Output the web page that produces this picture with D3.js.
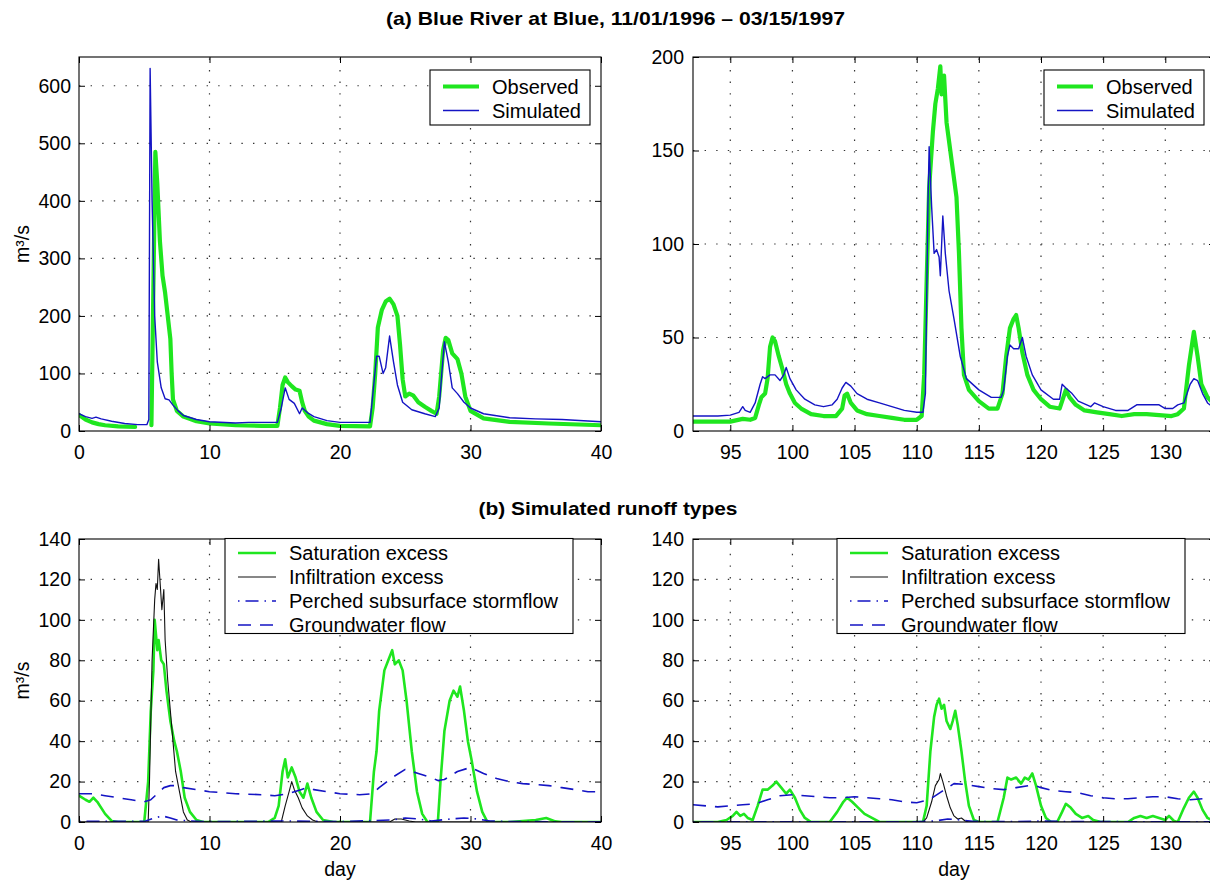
<!DOCTYPE html>
<html><head><meta charset="utf-8">
<script src="https://cdn.jsdelivr.net/npm/d3@7"></script>
<style>
html,body{margin:0;padding:0;background:#fff;}
svg{display:block;font-family:"Liberation Sans",Arial,Helvetica,sans-serif;}
.title{font-family:"Liberation Sans Narrow","Liberation Sans",Arial,sans-serif;font-weight:bold;}
</style></head>
<body><svg id="c" width="1210" height="882"></svg>
<script>
// ---------------- DATA ----------------
const titleA = "(a) Blue River at Blue, 11/01/1996 \u2013 03/15/1997";
const titleB = "(b) Simulated runoff types";
const yLabel = "m\u00b3/s";
const xLabel = "day";

const xTicksLeft = [0, 10, 20, 30, 40];
const xTicksRight = [95, 100, 105, 110, 115, 120, 125, 130];
const yTicksTopLeft = [0, 100, 200, 300, 400, 500, 600];
const yTicksTopRight = [0, 50, 100, 150, 200];
const yTicksBottom = [0, 20, 40, 60, 80, 100, 120, 140];

const legendTop = ["Observed", "Simulated"];
const legendBottom = ["Saturation excess", "Infiltration excess", "Perched subsurface stormflow", "Groundwater flow"];

// (a) left: observed flow [day, m3/s]; null = missing record
const observedLeft = [[0,28],[0.5,20],[1,15],[1.5,12],[2,10],[3,8],[4.3,7],[4.8,null],
 [5.55,10],[5.7,250],[5.85,485],[6.0,430],[6.2,330],[6.4,270],[6.6,240],[6.8,200],[7.0,160],[7.1,100],[7.2,55],
 [7.5,35],[8,25],[9,17],[10,13],[12,10],[14,9],[15.2,9],[15.4,40],[15.6,80],[15.8,93],[16.0,85],[16.3,78],
 [16.6,72],[16.9,70],[17.1,50],[17.3,35],[17.6,25],[18,18],[19,12],[20,9],[22.3,8],[22.5,40],[22.7,100],
 [22.9,180],[23.2,210],[23.5,225],[23.8,230],[24.1,220],[24.4,200],[24.6,150],[24.8,90],[25.0,60],[25.3,65],
 [25.6,62],[26.0,50],[26.5,42],[27.0,35],[27.4,30],[27.6,60],[27.9,140],[28.1,162],[28.3,158],[28.6,135],
 [29.0,125],[29.3,100],[29.6,60],[30,35],[31,22],[33,16],[36,13],[40,10]];
const simulatedLeft = [[0,30],[0.5,25],[1.0,22],[1.3,24],[1.7,21],[2.5,17],[3.5,13],[4.5,11],[5.2,11],[5.35,20],
 [5.45,630],[5.6,400],[5.8,200],[6.0,120],[6.3,75],[6.6,56],[6.9,54],[7.2,45],[7.6,35],[8,27],[9,20],[10,16],
 [12,14],[13,15],[15.2,15],[15.5,40],[15.8,75],[16.1,55],[16.5,48],[16.9,30],[17.1,40],[17.5,32],[18,25],
 [19,18],[20,15],[22.3,15],[22.5,60],[22.8,130],[23.0,130],[23.3,100],[23.5,110],[23.8,165],[24.1,120],
 [24.4,80],[24.8,50],[25.5,37],[26.5,30],[27.3,25],[27.6,40],[27.8,100],[28.0,155],[28.3,120],[28.6,75],
 [29,65],[29.5,50],[30,40],[31,30],[33,23],[35,21],[37,20],[40,16]];

// (a) right
const observedRight = [[92,5],[95,5],[96,6.5],[96.6,6],[97.0,7],[97.3,14],[97.5,18],[97.8,20],[98.0,28],[98.2,45],
 [98.4,50],[98.6,48],[98.9,40],[99.2,33],[99.5,25],[99.8,20],[100.2,15],[100.7,12],[101.5,9],[102.5,8],[103.5,8],
 [104.0,12],[104.2,19],[104.4,20],[104.7,15],[105.2,11],[106,9],[107,8],[108,7],[109,6],[110,6],[110.4,8],
 [110.6,30],[110.8,80],[111.0,130],[111.3,160],[111.5,175],[111.7,183],[111.9,195],[112.0,180],[112.2,190],
 [112.4,165],[112.6,155],[112.8,145],[113.0,135],[113.2,125],[113.4,95],[113.6,55],[113.8,30],[114.2,22],
 [115,16],[115.8,12],[116.5,12],[116.9,20],[117.2,40],[117.5,55],[117.8,60],[118.0,62],[118.2,55],[118.5,42],
 [118.9,30],[119.4,22],[120,17],[120.7,13],[121.5,12],[121.8,18],[122.0,22],[122.3,18],[122.8,14],[123.5,11],
 [124.5,10],[125.5,9],[126.5,8],[127.5,9],[128.5,9],[129.5,8.5],[130.5,8],[131.0,9],[131.5,12],[131.9,35],
 [132.3,53],[132.6,40],[132.9,25],[133.4,18],[134,14]];
const simulatedRight = [[92,8],[94,8],[95,8.5],[95.7,10],[96.0,13],[96.2,11],[96.6,10],[97.0,15],[97.4,25],
 [97.6,29],[97.8,28],[98.2,30],[98.6,30],[99.0,27],[99.3,30],[99.5,34],[99.8,28],[100.3,22],[101,17],[101.8,14],
 [102.5,13],[103.2,14],[103.6,17],[104.0,23],[104.3,26],[104.7,24],[105.2,20],[106,17],[107,15],[108,13],
 [109,11],[110,10],[110.5,10],[110.7,20],[110.9,120],[111.0,152],[111.2,120],[111.4,95],[111.6,97],[111.8,93],
 [111.9,83],[112.1,115],[112.3,95],[112.6,75],[113,60],[113.5,40],[114,28],[115,22],[116,18],[116.8,18],
 [117.0,22],[117.3,40],[117.5,46],[117.8,44],[118.2,44],[118.5,50],[118.8,40],[119.3,30],[120,22],[121,17],
 [121.5,17],[121.7,25],[122,23],[122.5,20],[123,16],[124,13],[124.3,15],[125,13],[126,11],[127,11],[127.7,14],
 [128.5,14],[129.5,14],[130,12],[130.6,12],[131,14],[131.5,15],[132.0,25],[132.3,28],[132.6,27],[133,20],
 [133.4,15],[134,12]];

// (b) left
const saturationLeft = [[0,13],[0.5,11],[0.8,10],[1.1,12],[1.4,10],[2,4],[2.5,0.5],[3,0],[5.0,0],[5.3,20],
 [5.5,55],[5.7,75],[5.8,100],[6.0,85],[6.1,90],[6.3,80],[6.5,78],[6.7,65],[7.0,50],[7.3,40],[7.5,35],[7.8,25],
 [8.1,12],[8.5,5],[9,1],[9.5,0],[14.5,0],[15.0,2],[15.3,8],[15.6,25],[15.8,31],[16.0,22],[16.3,27],[16.6,22],
 [16.9,15],[17.2,12],[17.5,19],[17.8,12],[18.2,5],[18.7,1],[19.5,0],[22.3,0],[22.6,25],[22.8,35],[23.0,55],
 [23.4,75],[23.7,80],[24.0,85],[24.2,78],[24.5,80],[24.8,75],[25.1,60],[25.5,35],[25.9,15],[26.3,4],[26.7,0],
 [27.5,0],[27.7,20],[28.0,45],[28.4,60],[28.7,65],[29.0,62],[29.2,67],[29.5,55],[29.8,40],[30.1,30],[30.5,15],
 [30.9,5],[31.3,0],[33,0],[34,0.5],[35,1],[35.8,2],[36.5,0.3],[37,0],[40,0]];
const infiltrationLeft = [[0,0],[5.3,0],[5.4,20],[5.6,80],[5.8,110],[5.9,118],[6.0,115],[6.1,130],[6.2,120],
 [6.35,105],[6.5,115],[6.6,90],[6.8,70],[7.0,55],[7.2,40],[7.4,25],[7.7,15],[8.0,5],[8.3,1],[8.6,0],[15.5,0],
 [15.8,8],[16.1,15],[16.3,20],[16.5,16],[16.8,12],[17.1,7],[17.5,3],[17.9,1],[18.3,0],[23.8,0],[24.2,1.5],
 [24.7,1.5],[25.3,0.5],[25.8,0],[40,0]];
const perchedLeft = [[0,0.3],[5,0.3],[5.8,2],[6.4,3],[7,2],[7.5,1],[8.5,0.5],[10,0.2],[16,0.5],[20,0.2],[24,1],
 [25,2],[26,1.5],[27,0.5],[28.5,1.5],[29.5,2],[30.5,1.5],[31.5,0.5],[33,0.2],[40,0.1]];
const groundwaterLeft = [[0,14],[1,14],[2,13],[3,12],[4,11],[5,10],[5.5,11],[6,14],[6.5,17],[7,18],[7.5,18],
 [8,17],[9,16],[10,15],[12,14],[14,13.5],[15,13],[16,14],[17,16],[17.5,17],[18,16],[19,15],[20,14],[21.5,13.5],
 [22.5,14],[23,17],[24,22],[25,26],[26,24],[27,22],[27.5,20.5],[28,21],[29,25],[30,27],[31,24],[32,21.5],
 [33,20],[34,19],[35,18.5],[36,18],[37,17],[38,16],[39,15],[40,15]];

// (b) right
const saturationRight = [[92,0],[94,0],[94.7,1],[95.2,3],[95.5,5],[95.8,3],[96.1,4],[96.4,2],[96.8,1],[97.2,8],
 [97.6,16],[98.0,16],[98.4,18],[98.7,20],[99.1,17],[99.5,14],[99.8,16],[100.2,12],[100.6,6],[101,2],[101.5,0],
 [103,0],[103.6,5],[104.1,10],[104.4,12],[104.8,10],[105.3,7],[105.8,4],[106.4,2],[107,0],[110.5,0],[110.8,8],
 [111.1,35],[111.4,52],[111.6,58],[111.8,61],[112.0,56],[112.2,58],[112.4,50],[112.7,46],[112.9,50],[113.1,55],
 [113.3,48],[113.6,35],[113.9,20],[114.2,8],[114.6,1],[115,0],[116.5,0],[117,12],[117.3,22],[117.6,21],
 [118.0,22],[118.4,19],[118.7,22],[119.0,21],[119.3,24],[119.6,18],[120,8],[120.4,2],[120.8,0],[121.3,0],
 [121.7,5],[122,9],[122.4,7],[122.8,4],[123.3,2],[123.8,3],[124.2,1],[124.8,0],[127,0],[127.5,2],[128,3],
 [128.5,2],[129,3],[129.5,2],[130,1],[130.3,3],[130.7,0.5],[131,0],[131.5,7],[131.9,12],[132.3,15],[132.6,12],
 [133,6],[133.4,2],[134,0]];
const infiltrationRight = [[92,0],[110.5,0],[110.8,2],[111.2,10],[111.5,18],[111.8,21],[111.9,24],[112.1,20],
 [112.4,13],[112.7,7],[113.0,3],[113.3,1.5],[113.6,2],[113.9,0.5],[114.2,0],[134,0]];
const perchedRight = [[92,0.1],[110,0.1],[111.5,0.5],[112.5,1.5],[113.5,1],[114.5,0.3],[118,0.2],[120,0.5],
 [122,0.2],[134,0.1]];
const groundwaterRight = [[92,8.5],[94,7.5],[96,8.5],[97,9],[98,11],[99,13],[100,13.5],[101,13],[102,12.5],
 [103,12],[104,12],[105,12.5],[106,12],[107,11.5],[108,11],[109,10],[110,9.5],[111,11],[112,15],[112.5,17],
 [113,19],[114,18.5],[115,17.5],[116,16.5],[117,16],[118,17],[119,18],[119.5,18],[120,17],[121,15.5],[122,15],
 [123,14.5],[124,13],[125,12],[126,11.5],[127,11.5],[128,12],[129,12.5],[130,12.5],[131,11.5],[132,11],
 [133,11.5],[134,12]];

// ---------------- STYLE ----------------
const GREEN = "#1fe61f", BLUE = "#1414c4", BLACK = "#111";
const styles = {
  obs:   {stroke: GREEN, width: 4.2, dash: null},
  sim:   {stroke: BLUE, width: 1.4, dash: null},
  sat:   {stroke: GREEN, width: 2.6, dash: null},
  inf:   {stroke: BLACK, width: 1.1, dash: null},
  per:   {stroke: BLUE, width: 1.6, dash: "1.5,6,13,6"},
  gw:    {stroke: BLUE, width: 1.6, dash: "13,9"}
};

const svg = d3.select("#c");
const FS = 19.5;

function panel(cfg) {
  const x = d3.scaleLinear().domain(cfg.xd).range([cfg.x0, cfg.x1]);
  const y = d3.scaleLinear().domain(cfg.yd).range([cfg.y1, cfg.y0]);
  const g = svg.append("g");
  const id = "clip" + cfg.id;
  svg.append("defs").append("clipPath").attr("id", id)
    .append("rect").attr("x", cfg.x0).attr("y", cfg.y0)
    .attr("width", cfg.x1 - cfg.x0).attr("height", cfg.y1 - cfg.y0);

  // grid
  const grid = g.append("g").attr("stroke", "#333").attr("stroke-width", 1.2)
     .attr("stroke-dasharray", "1.4,10.2").attr("fill", "none");
  cfg.xt.filter(v => v > cfg.xd[0] && v < cfg.xd[1]).forEach(v => {
    grid.append("line").attr("x1", x(v)).attr("x2", x(v)).attr("y1", cfg.y1).attr("y2", cfg.y0);
  });
  cfg.yt.filter(v => v > cfg.yd[0] && v < cfg.yd[1]).forEach(v => {
    grid.append("line").attr("x1", cfg.x0).attr("x2", cfg.x1).attr("y1", y(v)).attr("y2", y(v));
  });

  // series
  const line = d3.line().defined(d => d[1] !== null).x(d => x(d[0])).y(d => y(d[1]));
  const sg = g.append("g").attr("clip-path", `url(#${id})`);
  cfg.series.forEach(s => {
    const st = styles[s.style];
    sg.append("path").datum(s.data).attr("d", line).attr("fill", "none")
      .attr("stroke", st.stroke).attr("stroke-width", st.width)
      .attr("stroke-linejoin", "round").attr("stroke-linecap", st.dash ? "butt" : "round")
      .attr("stroke-dasharray", st.dash);
  });

  // axes (ticks inside)
  const ax = (gen, tr) => {
    const a = g.append("g").attr("transform", tr).call(gen);
    a.select(".domain").remove();
    a.attr("font-family", null).attr("font-size", null);
    a.selectAll("line").attr("stroke", "#000");
    a.selectAll("text").attr("fill", "#000").style("font-size", FS + "px");
    return a;
  };
  ax(d3.axisBottom(x).tickValues(cfg.xt).tickSizeInner(-6).tickSizeOuter(0).tickPadding(14.5),
     `translate(0,${cfg.y1})`);
  ax(d3.axisTop(x).tickValues(cfg.xt).tickSizeInner(-6).tickSizeOuter(0).tickFormat(""),
     `translate(0,${cfg.y0})`);
  ax(d3.axisLeft(y).tickValues(cfg.yt).tickSizeInner(-6).tickSizeOuter(0).tickPadding(cfg.ypad),
     `translate(${cfg.x0},0)`);
  ax(d3.axisRight(y).tickValues(cfg.yt).tickSizeInner(-6).tickSizeOuter(0).tickFormat(""),
     `translate(${cfg.x1},0)`);

  // frame
  g.append("rect").attr("x", cfg.x0).attr("y", cfg.y0).attr("width", cfg.x1 - cfg.x0)
    .attr("height", cfg.y1 - cfg.y0).attr("fill", "none").attr("stroke", "#000").attr("stroke-width", 1.1);

  // legend
  const L = cfg.legend;
  const lg = g.append("g");
  lg.append("rect").attr("x", L.x).attr("y", L.y).attr("width", L.w).attr("height", L.h)
    .attr("fill", "#fff").attr("stroke", "#000").attr("stroke-width", 1.1);
  L.items.forEach((name, i) => {
    const st = styles[cfg.series[i].style];
    const yy = L.y + L.first + i * L.step;
    lg.append("line").attr("x1", L.x + L.l0).attr("x2", L.x + L.l1).attr("y1", yy).attr("y2", yy)
      .attr("stroke", st.stroke).attr("stroke-width", st.width).attr("stroke-dasharray", st.dash);
    lg.append("text").attr("x", L.x + L.tx).attr("y", yy).attr("dy", "0.35em")
      .style("font-size", L.fs + "px").attr("fill", "#000").text(name);
  });

  // y label
  if (cfg.ylabel) {
    g.append("text").attr("transform", `translate(22,${(cfg.y0 + cfg.y1) / 2}) rotate(-90)`)
      .attr("text-anchor", "middle").attr("dy", "0.35em").style("font-size", FS + "px").text(cfg.ylabel);
  }
  if (cfg.xlabel) {
    g.append("text").attr("x", (cfg.x0 + cfg.x1) / 2).attr("y", 876).attr("text-anchor", "middle")
      .style("font-size", FS + "px").text(cfg.xlabel);
  }
}

const LX = 79, LX1 = 601, RX = 693, RX1 = 1215;
const legT = (x) => ({x: x, y: 70, w: 160, h: 55, first: 16.5, step: 24, l0: 13, l1: 49, tx: 62, fs: 20, items: legendTop});
const legB = (x) => ({x: x, y: 538.5, w: 348, h: 95, first: 14.5, step: 24, l0: 13, l1: 51, tx: 64, fs: 20, items: legendBottom});

panel({id: 1, x0: LX, x1: LX1, y0: 57, y1: 431, xd: [0, 40], yd: [0, 650], xt: xTicksLeft, yt: yTicksTopLeft, ypad: 8,
  series: [{data: observedLeft, style: "obs"}, {data: simulatedLeft, style: "sim"}],
  legend: legT(430), ylabel: yLabel});
panel({id: 2, x0: RX, x1: RX1, y0: 57, y1: 431, xd: [92, 134], yd: [0, 200], xt: xTicksRight, yt: yTicksTopRight, ypad: 9,
  series: [{data: observedRight, style: "obs"}, {data: simulatedRight, style: "sim"}],
  legend: legT(1044)});
panel({id: 3, x0: LX, x1: LX1, y0: 539, y1: 822, xd: [0, 40], yd: [0, 140], xt: xTicksLeft, yt: yTicksBottom, ypad: 8,
  series: [{data: saturationLeft, style: "sat"}, {data: infiltrationLeft, style: "inf"},
           {data: perchedLeft, style: "per"}, {data: groundwaterLeft, style: "gw"}],
  legend: legB(225), ylabel: yLabel, xlabel: xLabel});
panel({id: 4, x0: RX, x1: RX1, y0: 539, y1: 822, xd: [92, 134], yd: [0, 140], xt: xTicksRight, yt: yTicksBottom, ypad: 9,
  series: [{data: saturationRight, style: "sat"}, {data: infiltrationRight, style: "inf"},
           {data: perchedRight, style: "per"}, {data: groundwaterRight, style: "gw"}],
  legend: legB(837), xlabel: xLabel});

// titles
svg.append("text").attr("class", "title").attr("x", 615.5).attr("y", 24.5).attr("text-anchor", "middle")
  .style("font-size", "19px").attr("textLength", 459)
  .attr("lengthAdjust", "spacingAndGlyphs").text(titleA);
svg.append("text").attr("class", "title").attr("x", 608).attr("y", 514.5).attr("text-anchor", "middle")
  .style("font-size", "19px").attr("textLength", 259)
  .attr("lengthAdjust", "spacingAndGlyphs").text(titleB);
</script></body></html>
